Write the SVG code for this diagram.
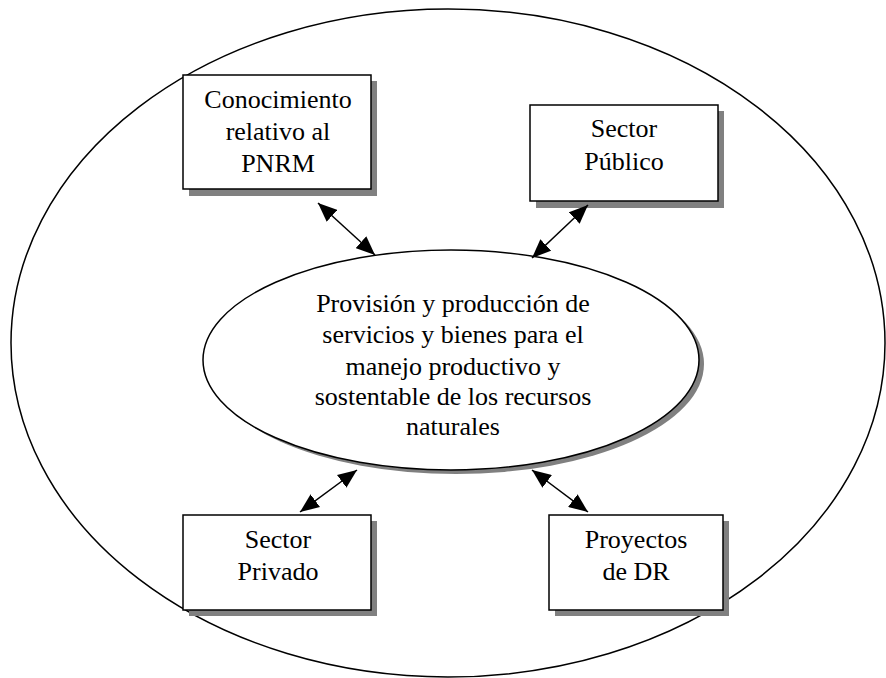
<svg xmlns="http://www.w3.org/2000/svg" width="886" height="678" viewBox="0 0 886 678">
<style>
.box{fill:#fff;stroke:#000;stroke-width:1.5}
.sh{fill:#808080;stroke:none}
.t{font-family:'Liberation Serif','Times New Roman','DejaVu Serif',serif;font-size:26px;fill:#000;text-anchor:middle}
.c{stroke:#000;stroke-width:1.5;fill:none;marker-start:url(#ah);marker-end:url(#ah)}
</style>
<defs>
<marker id="ah" viewBox="0 0 12 10" refX="12" refY="5" markerWidth="19" markerHeight="16" markerUnits="userSpaceOnUse" orient="auto-start-reverse">
<path d="M0,0 L12,5 L0,10 z" fill="#000"/>
</marker>
</defs>
<rect width="886" height="678" fill="#fff"/>
<g id="outer">
<ellipse cx="448" cy="343" rx="437" ry="334" fill="none" stroke="#000" stroke-width="1.5"/>
</g>
<g id="center">
<ellipse cx="456" cy="364" rx="248" ry="110" class="sh"/>
<ellipse cx="451" cy="360" rx="248" ry="110" class="box"/>
<text class="t" x="453" y="312">Provisión y producción de</text>
<text class="t" x="453" y="343">servicios y bienes para el</text>
<text class="t" x="453" y="375">manejo productivo y</text>
<text class="t" x="453" y="405">sostentable de los recursos</text>
<text class="t" x="453" y="435">naturales</text>
</g>
<g id="conocimiento">
<rect x="189" y="81" width="188" height="115" class="sh"/>
<rect x="183" y="75" width="188" height="114" class="box"/>
<text class="t" x="278" y="108">Conocimiento</text>
<text class="t" x="278" y="140">relativo al</text>
<text class="t" x="278" y="172">PNRM</text>
</g>
<g id="publico">
<rect x="536" y="111" width="188" height="97" class="sh"/>
<rect x="530" y="105" width="188" height="96" class="box"/>
<text class="t" x="624" y="137">Sector</text>
<text class="t" x="624" y="170">Público</text>
</g>
<g id="privado">
<rect x="189" y="521" width="188" height="95" class="sh"/>
<rect x="183" y="515" width="188" height="95" class="box"/>
<text class="t" x="278" y="548">Sector</text>
<text class="t" x="278" y="580">Privado</text>
</g>
<g id="proyectos">
<rect x="555" y="521" width="174" height="95" class="sh"/>
<rect x="549" y="515" width="174" height="95" class="box"/>
<text class="t" x="636" y="548">Proyectos</text>
<text class="t" x="636" y="580">de DR</text>
</g>
<g id="connectors">
<line class="c" x1="318" y1="203" x2="375" y2="255"/>
<line class="c" x1="588" y1="205" x2="532" y2="258"/>
<line class="c" x1="357" y1="470" x2="300" y2="512"/>
<line class="c" x1="532" y1="470" x2="588" y2="512"/>
</g>
</svg>
